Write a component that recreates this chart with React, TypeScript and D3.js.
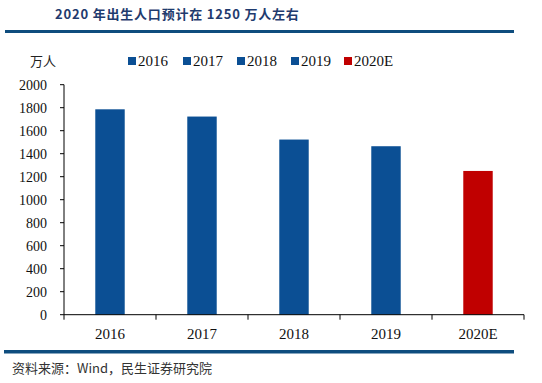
import React from "react";
import * as d3 from "d3";

const categories = ["2016", "2017", "2018", "2019", "2020E"];
const values = [1786, 1723, 1523, 1465, 1250];
const colors = ["#0B4F94", "#0B4F94", "#0B4F94", "#0B4F94", "#C00000"];
const yTicks = [0, 200, 400, 600, 800, 1000, 1200, 1400, 1600, 1800, 2000];
const title = "2020 年出生人口预计在 1250 万人左右";
const unit = "万人";
const source = "资料来源：Wind，民生证券研究院";

export default function App() {
  React.useEffect(() => {
    document.body.style.margin = "0";
  }, []);
  const W = 542, H = 383;
  const left = 64, right = 524, top = 84.7, bottom = 314.7;
  const x = d3.scaleBand<string>().domain(categories).range([left, right]).paddingInner(0.68).paddingOuter(0.34);
  const xb = d3.scaleBand<string>().domain(categories).range([left, right]);
  const y = d3.scaleLinear().domain([0, 2000]).range([bottom, top]);
  const serif = "'Liberation Serif', 'Times New Roman', serif";
  const legendX = [128, 183, 237, 291, 344];
  return (
    <svg width={W} height={H} style={{ display: "block", background: "#fff" }}>
      <text x={55} y={19} fontFamily="'Noto Sans CJK SC', sans-serif" fontWeight="bold" fontSize={13} letterSpacing={0.8} fill="#1F3B6E">{title}</text>
      <rect x={5} y={30} width={509} height={3} fill="#0E4D7E" />
      <text x={30} y={66} fontFamily="'Noto Sans CJK SC', serif" fontSize={13} fill="#222">{unit}</text>
      {categories.map((c, i) => (
        <g key={"lg" + c}>
          <rect x={legendX[i]} y={57} width={8} height={8} fill={colors[i]} />
          <text x={legendX[i] + 10} y={66} fontFamily={serif} fontSize={15} fill="#111">{c}</text>
        </g>
      ))}
      <line x1={left} x2={left} y1={top} y2={bottom} stroke="#000" strokeWidth={1} />
      {yTicks.map((t) => (
        <g key={"yt" + t}>
          <line x1={left - 4} x2={left} y1={y(t)} y2={y(t)} stroke="#000" />
          <text x={47} y={y(t) + 5} textAnchor="end" fontFamily={serif} fontSize={14} fill="#111">{t}</text>
        </g>
      ))}
      {categories.map((c, i) => (
        <rect key={"b" + c} x={x(c)} y={y(values[i])} width={x.bandwidth()} height={bottom - y(values[i])} fill={colors[i]} />
      ))}
      <line x1={left} x2={right} y1={bottom} y2={bottom} stroke="#000" />
      {[...categories.map((c) => xb(c) as number), right].map((p, i) => (
        <line key={"xt" + i} x1={p} x2={p} y1={bottom} y2={bottom + 5} stroke="#000" />
      ))}
      {categories.map((c) => (
        <text key={"xl" + c} x={(xb(c) as number) + xb.bandwidth() / 2} y={339} textAnchor="middle" fontFamily={serif} fontSize={15} fill="#111">{c}</text>
      ))}
      <rect x={4} y={350} width={510} height={3.5} fill="#0E4D7E" />
      <text x={12} y={373} fontFamily="'Noto Sans CJK SC', sans-serif" fontSize={13} fill="#333">{source}</text>
    </svg>
  );
}
